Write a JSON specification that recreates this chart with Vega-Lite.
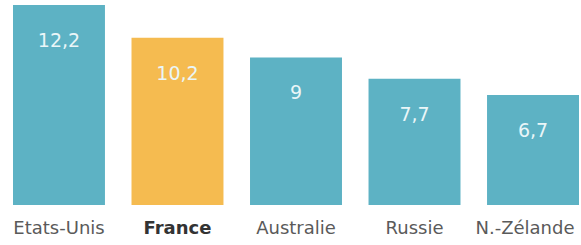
{
  "$schema": "https://vega.github.io/schema/vega-lite/v6.json",
  "width": 566,
  "height": 205,
  "padding": {"left": 12, "top": 0, "right": 3, "bottom": 0},
  "autosize": {"type": "pad"},
  "background": "white",
  "data": {"values": [
    {"pays": "Etats-Unis", "valeur": 12.2, "label": "12,2", "hl": false},
    {"pays": "France", "valeur": 10.2, "label": "10,2", "hl": true},
    {"pays": "Australie", "valeur": 9, "label": "9", "hl": false},
    {"pays": "Russie", "valeur": 7.7, "label": "7,7", "hl": false},
    {"pays": "N.-Zélande", "valeur": 6.7, "label": "6,7", "hl": false}
  ]},
  "config": {"view": {"stroke": null}},
  "encoding": {
    "x": {"field": "pays", "type": "nominal", "sort": null,
      "scale": {"paddingInner": 0.224, "paddingOuter": 0},
      "axis": {"title": null, "domain": false, "ticks": false, "labelAngle": 0,
        "labelFont": "DejaVu Sans", "labelFontSize": 18, "labelPadding": 14,
        "labelOffset": {"condition": {"test": "datum.value == 'N.-Zélande'", "value": -8}, "value": 0},
        "labelColor": {"condition": {"test": "datum.value == 'France'", "value": "#333333"}, "value": "#5a5a5a"},
        "labelFontWeight": {"condition": {"test": "datum.value == 'France'", "value": "bold"}, "value": "normal"}}},
    "y": {"field": "valeur", "type": "quantitative", "scale": {"domain": [0, 12.5], "nice": false}, "axis": null}
  },
  "layer": [
    {"mark": {"type": "bar"},
     "encoding": {"color": {"field": "hl", "type": "nominal", "scale": {"domain": [false, true], "range": ["#5db2c4", "#f5bb50"]}, "legend": null}}},
    {"mark": {"type": "text", "dy": 36, "baseline": "middle", "font": "DejaVu Sans", "fontSize": 19, "color": "#eaf6f8"},
     "encoding": {"text": {"field": "label"}}}
  ]
}
